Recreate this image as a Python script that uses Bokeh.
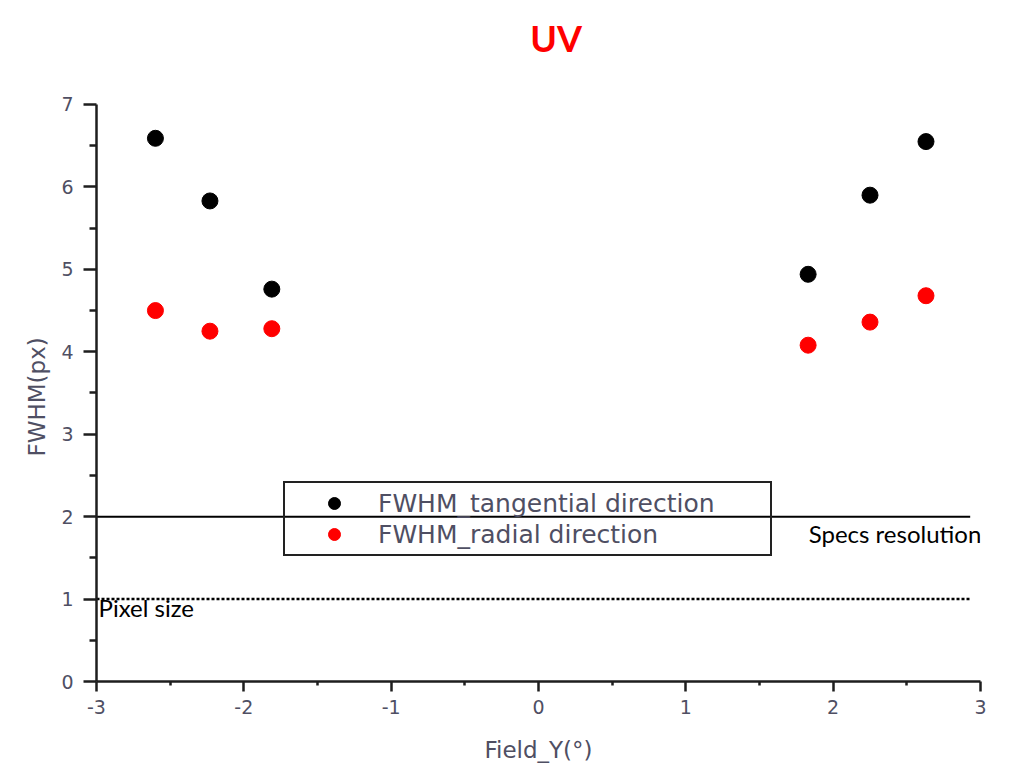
from bokeh.plotting import figure
from bokeh.models import Legend, LegendItem, Label, FixedTicker, Range1d, Title
from bokeh.embed import file_html
from bokeh.resources import INLINE

# Field positions (degrees) and measured FWHM (pixels)
field_y = [-2.60, -2.23, -1.81, 1.83, 2.25, 2.63]
fwhm_tangential = [6.59, 5.83, 4.76, 4.94, 5.90, 6.55]
fwhm_radial = [4.50, 4.25, 4.28, 4.08, 4.36, 4.68]

# Reference levels
spec_resolution = 2.0
pixel_size = 1.0
ref_x_start = -3.0
ref_x_end = 2.93

x_ticks = [-3, -2, -1, 0, 1, 2, 3]
y_ticks = [0, 1, 2, 3, 4, 5, 6, 7]

LABEL_COLOR = "#4f4f63"
AXIS_COLOR = "#1e1e1e"

# The frame reaches the top of the canvas so the heading can sit inside it;
# the y axis itself is bounded to 0..7.
Y_TOP = 7 + 104 / 82.43

p = figure(
    width=1012, height=768, title=None,
    x_range=Range1d(-3, 3), y_range=Range1d(0, Y_TOP),
    output_backend="svg", toolbar_location=None,
    min_border_left=96, min_border_right=32,
    min_border_top=0, min_border_bottom=87,
)
p.outline_line_color = None
p.grid.visible = False
p.background_fill_color = "white"
p.border_fill_color = "white"

# Axes
for ax in (p.xaxis[0], p.yaxis[0]):
    ax.axis_line_color = AXIS_COLOR
    ax.axis_line_width = 2.5
    ax.major_tick_line_color = AXIS_COLOR
    ax.major_tick_line_width = 2.5
    ax.minor_tick_line_color = AXIS_COLOR
    ax.minor_tick_line_width = 2.5
    ax.major_tick_in = 0
    ax.minor_tick_in = 0
    ax.major_label_text_font = "DejaVu Sans"
    ax.major_label_text_font_size = "19px"
    ax.major_label_text_color = LABEL_COLOR
    ax.axis_label_text_font = "DejaVu Sans"
    ax.axis_label_text_font_size = "23px"
    ax.axis_label_text_font_style = "normal"
    ax.axis_label_text_color = LABEL_COLOR

p.yaxis.bounds = (0, 7)
p.xaxis.ticker = FixedTicker(ticks=x_ticks, minor_ticks=[v + 0.5 for v in x_ticks[:-1]])
p.yaxis.ticker = FixedTicker(ticks=y_ticks, minor_ticks=[v + 0.5 for v in y_ticks[:-1]])
p.xaxis.major_label_overrides = {t: str(t) for t in x_ticks}
p.xaxis.major_tick_out = 10
p.xaxis.minor_tick_out = 4
p.yaxis.major_tick_out = 13
p.yaxis.minor_tick_out = 7
p.xaxis.major_label_standoff = 8
p.yaxis.major_label_standoff = 10
p.xaxis.axis_label = "Field_Y(°)"
p.xaxis.axis_label_standoff = 20

# y-axis label, placed along the bounded 0..7 span
p.add_layout(Title(text="FWHM(px)", align="left", offset=225, standoff=18,
                   text_font="DejaVu Sans", text_font_size="23px",
                   text_font_style="normal", text_color=LABEL_COLOR), "left")

# Heading
p.add_layout(Label(x=0.12, y=7.812, text="UV", text_align="center",
                   text_baseline="alphabetic",
                   text_font="Lato", text_font_size="36px", text_font_style="bold",
                   text_color="#ff0000"))

# Reference lines
p.segment(x0=[ref_x_start], y0=[spec_resolution], x1=[ref_x_end], y1=[spec_resolution],
          line_color="black", line_width=2)
p.segment(x0=[ref_x_start], y0=[pixel_size], x1=[ref_x_end], y1=[pixel_size],
          line_color="black", line_width=2.5, line_dash="3 2")

# Measurements
r_tan = p.scatter(field_y, fwhm_tangential, size=16, marker="circle",
                  fill_color="black", line_color="black")
r_rad = p.scatter(field_y, fwhm_radial, size=16, marker="circle",
                  fill_color="#ff0000", line_color="#ff0000")

legend = Legend(
    items=[LegendItem(label="FWHM_tangential direction", renderers=[r_tan]),
           LegendItem(label="FWHM_radial direction", renderers=[r_rad])],
    location=(187, 125),
    border_line_color="#222222", border_line_width=2.5, border_line_alpha=1.0,
    background_fill_alpha=0,
    padding=5, spacing=1, margin=0,
    glyph_width=88, glyph_height=30, label_height=30,
    label_standoff=0, label_width=387,
    label_text_font="DejaVu Sans", label_text_font_size="25px",
    label_text_color=LABEL_COLOR,
)
p.add_layout(legend)

p.add_layout(Label(x=1.834, y=1.795, text="Specs resolution",
                   text_font="Lato", text_font_size="24px",
                   text_color="black", text_baseline="alphabetic"))
p.add_layout(Label(x=-2.986, y=0.90, text="Pixel size",
                   text_font="Lato", text_font_size="24px",
                   text_color="black", text_baseline="alphabetic"))

open("out.html", "w").write(file_html(p, INLINE))
